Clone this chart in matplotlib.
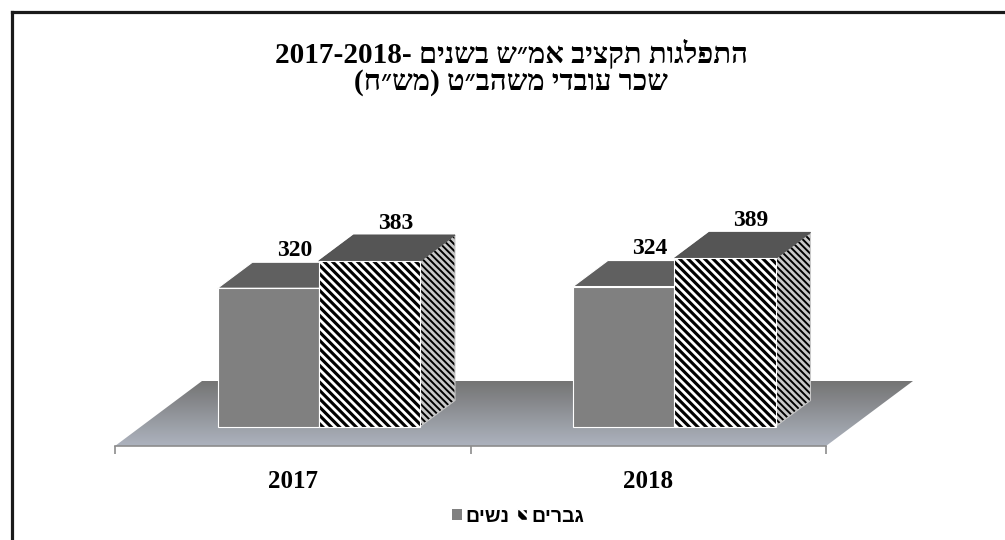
import re
import numpy as np
import matplotlib
matplotlib.use('Agg')
import matplotlib.pyplot as plt
from matplotlib.patches import Polygon, Patch
from matplotlib.lines import Line2D

years = ['2017', '2018']
women = [320, 324]
men = [383, 389]
series_names = ['נשים', 'גברים']
title1 = 'התפלגות תקציב אמ״ש בשנים -2018-2017'
title2 = 'שכר עובדי משהב״ט (מש״ח)'


def vis(s):
    # matplotlib has no bidi: put hebrew into visual (left-to-right) order
    out = s[::-1]
    out = re.sub(r'\d+', lambda m: m.group(0)[::-1], out)
    return out.translate(str.maketrans('()', ')('))


plt.rcParams['hatch.linewidth'] = 2.0
serif = ['Liberation Serif', 'DejaVu Serif', 'DejaVu Sans']
sans = ['Liberation Sans', 'DejaVu Sans']

W, H, DPI = 1005, 540, 100
px_x, px_y = 355.5, 0.432          # pixels per category / per value unit
DX, DY = 87 / px_x, 65 / px_y      # oblique depth direction of the floor
D0, D1 = 0.3, 0.7                  # bar depth range on the floor
BW = 0.285                         # bar width

fig = plt.figure(figsize=(W / DPI, H / DPI), dpi=DPI)
fig.patch.set_facecolor('white')
ax = fig.add_axes([0, 0, 1, 1])
ax.patch.set_visible(False)

# floor with a vertical gradient
floor = Polygon([(-0.5, 0), (1.5, 0), (1.5 + DX, DY), (-0.5 + DX, DY)],
                closed=True, facecolor='none', edgecolor='none')
ax.add_patch(floor)
c_back = np.array([0x74, 0x74, 0x74]) / 255
c_front = np.array([0xad, 0xb3, 0xbe]) / 255
t = np.linspace(0, 1, 200)[:, None]
grad = (c_back * (1 - t) + c_front * t)[:, None, :]
im = ax.imshow(grad, extent=[-0.5, 1.5 + DX, 0, DY], aspect='auto',
               origin='upper', zorder=1, interpolation='bilinear')
im.set_clip_path(floor)


def proj(x, y, d):
    return (x + d * DX, y + d * DY)


xs = np.arange(len(years))
styles = [
    dict(front=dict(facecolor='#808080', edgecolor='white'),
         top=dict(facecolor='#606060', edgecolor='white'),
         side=dict(facecolor='#555555', edgecolor='white')),
    dict(front=dict(facecolor='black', edgecolor='white', hatch='\\\\\\\\'),
         top=dict(facecolor='#151515', edgecolor='#555555', hatch='--------'),
         side=dict(facecolor='black', edgecolor='#c8c8c8', hatch='\\\\\\\\\\')),
]

for s, vals in enumerate([women, men]):
    st = styles[s]
    z = 2 + 2 * s
    lefts = xs - BW + s * BW
    for xl, v in zip(lefts, vals):
        xr = xl + BW
        top = [proj(xl, v, D0), proj(xr, v, D0), proj(xr, v, D1), proj(xl, v, D1)]
        side = [proj(xr, 0, D0), proj(xr, v, D0), proj(xr, v, D1), proj(xr, 0, D1)]
        ax.add_patch(Polygon(side, closed=True, lw=0.8, zorder=z, **st['side']))
        ax.add_patch(Polygon(top, closed=True, lw=0.8, zorder=z, **st['top']))
        ax.annotate(str(v), proj(xl + BW / 2, v, 0.6), xytext=(0, 13),
                    textcoords='offset points', ha='center', va='center',
                    fontsize=17, fontweight='bold', family=serif, zorder=10)
    ax.bar(lefts + D0 * DX, vals, width=BW, bottom=D0 * DY, align='edge',
           lw=0.8, zorder=z + 1, **st['front'])

# category axis along the front edge of the floor
for sp in ['left', 'right', 'top']:
    ax.spines[sp].set_visible(False)
ax.spines['bottom'].set_position(('data', 0))
ax.spines['bottom'].set_bounds(-0.5, 1.5)
ax.spines['bottom'].set_color('#8c8c8c')
ax.spines['bottom'].set_linewidth(1.2)
ax.spines['bottom'].set_zorder(1.5)
ax.set_yticks([])
ax.set_xticks([-0.5, 0.5, 1.5], ['', '', ''])
ax.set_xticks(xs, years, minor=True)
ax.tick_params(axis='x', which='major', length=6, width=1.2, color='#8c8c8c')
ax.tick_params(axis='x', which='minor', length=0, pad=17)
for lab in ax.get_xticklabels(minor=True):
    lab.set_fontsize(18)
    lab.set_fontweight('bold')
    lab.set_family(serif)

ax.set_xlim(-0.5 - 115 / px_x, -0.5 + (W - 115) / px_x)
ax.set_ylim(-(H - 446) / px_y, 446 / px_y)

# title
fig.text(511 / W, 1 - 54 / H, vis(title1), ha='center', va='center',
         fontsize=21, fontweight='bold', family=serif)
fig.text(511 / W, 1 - 83 / H, vis(title2), ha='center', va='center',
         fontsize=21, fontweight='bold', family=serif)

# legend
handles = [Patch(facecolor='#808080', edgecolor='none'),
           Patch(facecolor='black', edgecolor='white', hatch='\\\\\\')]
fig.legend(handles, [vis(n) for n in series_names], loc='center',
           bbox_to_anchor=(518 / W, 1 - 517 / H), ncol=2, frameon=False,
           handlelength=0.5, handleheight=0.5, handletextpad=0.2,
           columnspacing=0.4, prop=dict(family=sans, weight='bold', size=14))

# frame around the chart area (cut at the right and bottom)
fig.add_artist(Line2D([11.5 / W, 1], [1 - 11.5 / H, 1 - 11.5 / H],
                      color='#1a1a1a', lw=2.3, transform=fig.transFigure))
fig.add_artist(Line2D([11.5 / W, 11.5 / W], [0, 1 - 11.5 / H],
                      color='#1a1a1a', lw=2.3, transform=fig.transFigure))

fig.savefig('out.png', dpi=DPI)
